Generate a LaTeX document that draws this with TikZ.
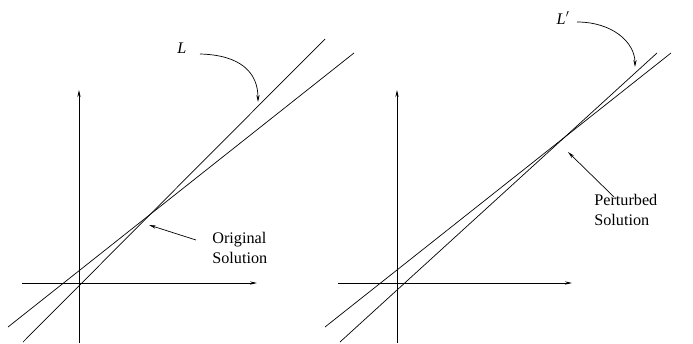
\documentclass[tikz,border=0pt]{standalone}
\usepackage{fontspec}
\setmainfont{Liberation Serif}
\usetikzlibrary{arrows.meta}
\begin{document}
\begin{tikzpicture}[x=1pt,y=-1pt,line width=0.7pt,
  arr/.style={-{Stealth[length=7pt,width=3.2pt]}},
  lbl/.style={inner sep=0pt,font=\fontsize{16.2}{20}\selectfont}]
\useasboundingbox (0,0) rectangle (693,343);
% left panel
\coordinate (lx0) at (22,283); \coordinate (lx1) at (257,283);
\coordinate (ly0) at (79,343); \coordinate (ly1) at (79,90);
\draw[arr] (lx0) -- (lx1);
\draw[arr] (ly0) -- (ly1);
\coordinate (la0) at (23,342); \coordinate (la1) at (325,39);
\coordinate (lb0) at (8,327); \coordinate (lb1) at (354,53);
\draw (la0) -- (la1);
\draw (lb0) -- (lb1);
\node[lbl,font=\fontsize{16.2}{20}\selectfont\itshape] (L) at (182,48) {L};
\coordinate (Ls) at (200,54);
\coordinate (Ltip) at (258,102);
\draw[arr] (Ls) .. controls (240,55) and (258,72) .. (Ltip);
\node[lbl,align=left,anchor=west] (orig) at (212,248) {Original\\Solution};
\coordinate (otip) at (149,225);
\coordinate (os) at (196,240);
\draw[arr] (os) -- (otip);
% right panel
\coordinate (rx0) at (338,283); \coordinate (rx1) at (572,283);
\coordinate (ry0) at (397,343); \coordinate (ry1) at (397,90);
\draw[arr] (rx0) -- (rx1);
\draw[arr] (ry0) -- (ry1);
\coordinate (ra0) at (340,342); \coordinate (ra1) at (657,53);
\coordinate (rb0) at (325,327); \coordinate (rb1) at (671,53);
\draw (ra0) -- (ra1);
\draw (rb0) -- (rb1);
\node[lbl] (Lp) at (563,18) {\textit{L}$'$};
\coordinate (Lps) at (577,22);
\coordinate (Lptip) at (635,67);
\draw[arr] (Lps) .. controls (612,22) and (635,42) .. (Lptip);
\node[lbl,align=left,anchor=west] (pert) at (594,210) {Perturbed\\Solution};
\coordinate (ptip) at (568,152);
\coordinate (ps) at (614,197);
\draw[arr] (ps) -- (ptip);
\end{tikzpicture}
\end{document}
